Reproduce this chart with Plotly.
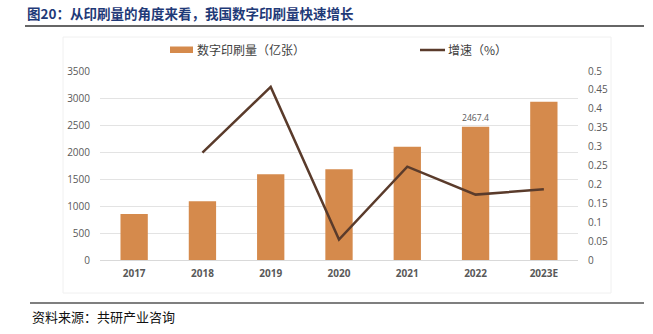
import plotly.graph_objects as go

years = ["2017", "2018", "2019", "2020", "2021", "2022", "2023E"]
volume = [850, 1090, 1590, 1680, 2095, 2467.4, 2930]
growth = [None, 0.284, 0.458, 0.054, 0.247, 0.173, 0.187]
bar_labels = ["", "", "", "", "", "2467.4", ""]
series_names = ["数字印刷量（亿张）", "增速（%）"]

title_text = "图20：从印刷量的角度来看，我国数字印刷量快速增长"
source_text = "资料来源：共研产业咨询"

BAR_COLOR = "#D58A4C"
LINE_COLOR = "#5A3B2B"

W, H = 653, 334
L, R, T, B = 100, 75, 71, 74

fig = go.Figure()
fig.add_trace(go.Bar(
    x=years, y=volume, name=series_names[0],
    marker=dict(color=BAR_COLOR, line=dict(width=0)),
    width=0.4,
    text=bar_labels, textposition="outside", cliponaxis=False,
    textfont=dict(size=10, color="#595959", family="Open Sans, Arial"),
))
fig.add_trace(go.Scatter(
    x=years, y=growth, name=series_names[1], yaxis="y2",
    mode="lines", line=dict(color=LINE_COLOR, width=2.5),
    connectgaps=False,
))

tick_font = dict(size=10, color="#595959", family="Open Sans, Arial")

fig.update_layout(
    width=W, height=H,
    margin=dict(l=L, r=R, t=T, b=B),
    paper_bgcolor="white", plot_bgcolor="white",
    showlegend=False,
    xaxis=dict(
        type="category", showgrid=False, zeroline=False,
        showline=False, ticks="",
        tickfont=dict(size=10, color="#595959", family="Open Sans, Arial", weight="bold"),
        ticklabelstandoff=6,
    ),
    yaxis=dict(
        range=[0, 3500], dtick=500, showgrid=True, gridcolor="#E3E3E3", gridwidth=1,
        zeroline=True, zerolinecolor="#D9D9D9", zerolinewidth=1,
        showline=False, ticks="", tickfont=tick_font, ticklabelstandoff=9,
    ),
    yaxis2=dict(
        range=[0, 0.5], dtick=0.05, overlaying="y", side="right",
        showgrid=False, zeroline=False, showline=False, ticks="",
        tickfont=tick_font, ticklabelstandoff=9, tickformat="~g",
    ),
)

def px_x(p):
    return (p - L) / (W - L - R)

def px_y(p):
    return 1 - (p - T) / (H - T - B)

# legend (drawn manually to match wide swatches)
fig.add_shape(type="rect", xref="paper", yref="paper",
              x0=px_x(170), x1=px_x(193), y0=px_y(53), y1=px_y(46.5),
              fillcolor=BAR_COLOR, line=dict(width=0))
fig.add_annotation(text=series_names[0], xref="paper", yref="paper",
                   x=px_x(195), y=px_y(50), xanchor="left", yanchor="middle",
                   showarrow=False,
                   font=dict(size=12, color="#404040", family="Noto Sans CJK SC"))
fig.add_shape(type="line", xref="paper", yref="paper",
              x0=px_x(420), x1=px_x(445), y0=px_y(50), y1=px_y(50),
              line=dict(color=LINE_COLOR, width=2.5))
fig.add_annotation(text=series_names[1], xref="paper", yref="paper",
                   x=px_x(446), y=px_y(50), xanchor="left", yanchor="middle",
                   showarrow=False,
                   font=dict(size=12, color="#404040", family="Noto Sans CJK SC"))

fig.add_annotation(
    text="<b>" + title_text + "</b>", xref="paper", yref="paper",
    x=px_x(25), y=px_y(13),
    xanchor="left", yanchor="middle", showarrow=False,
    font=dict(size=13.5, color="#1F3A78", family="Noto Sans CJK SC"),
)
fig.add_annotation(
    text=source_text, xref="paper", yref="paper",
    x=px_x(30), y=px_y(316),
    xanchor="left", yanchor="middle", showarrow=False,
    font=dict(size=13, color="#111111", family="Noto Sans CJK SC"),
)

fig.add_shape(type="line", xref="paper", yref="paper",
              x0=px_x(25), x1=px_x(644), y0=px_y(26), y1=px_y(26),
              line=dict(color="#333333", width=1.5))
fig.add_shape(type="line", xref="paper", yref="paper",
              x0=px_x(30), x1=px_x(644), y0=px_y(303), y1=px_y(303),
              line=dict(color="#555555", width=1.5))
fig.add_shape(type="rect", xref="paper", yref="paper",
              x0=px_x(63), x1=px_x(611), y0=px_y(37), y1=px_y(293),
              line=dict(color="#F0F0F0", width=1), layer="below")

fig.write_html("out.html")
